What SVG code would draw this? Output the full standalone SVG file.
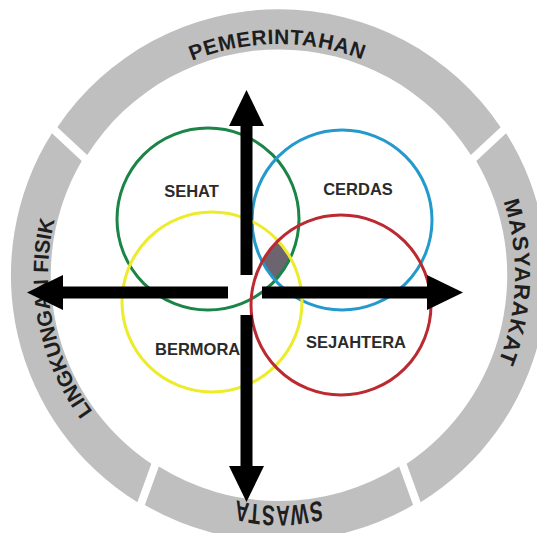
<svg xmlns="http://www.w3.org/2000/svg" width="537" height="533" viewBox="0 0 537 533">
  <style>
    .seg { fill: #bfbfbf; }
    .ringtxt { font-family: "Liberation Sans", Arial, sans-serif; font-weight: bold; fill: #1e1e1e; }
    .circ { fill: none; stroke-width: 3; }
    .lbl { font-family: "Liberation Sans", Arial, sans-serif; font-weight: bold; font-size: 16.5px; fill: #2b2b2b; text-anchor: middle; }
    .arrow { stroke: #000; stroke-width: 12; fill: none; marker-end: url(#head); }
  </style>
  <defs>
    <path id="p231" d="M510,275 A231,231 0 1 1 48,275 A231,231 0 1 1 510,275 A231,231 0 1 1 48,275 A231,231 0 1 1 510,275"/>
    <path id="p236" d="M515,275 A236,236 0 1 1 43,275 A236,236 0 1 1 515,275 A236,236 0 1 1 43,275 A236,236 0 1 1 515,275"/>
    <marker id="head" markerUnits="userSpaceOnUse" markerWidth="36" markerHeight="35" viewBox="0 0 36 35" refX="0" refY="17.5" orient="auto">
      <path d="M0,0 L36,17.5 L0,35 Z" fill="#000"/>
    </marker>
    <clipPath id="cGreen"><circle cx="208" cy="219" r="91"/></clipPath>
    <clipPath id="cBlue"><circle cx="342" cy="220" r="90"/></clipPath>
    <clipPath id="cYellow"><circle cx="212" cy="302" r="90"/></clipPath>
  </defs>
  <rect width="537" height="533" fill="#fff"/>

  <g id="pemerintahan">
    <path class="seg" d="M57.37,127.29 A267,267 0 0 1 500.63,127.29 L470.83,155.07 A227,227 0 0 0 87.17,155.07 Z"/>
    <text class="ringtxt" font-size="21" letter-spacing="0.6" text-anchor="middle"><textPath href="#p231" startOffset="1086.5">PEMERINTAHAN</textPath></text>
  </g>
  <g id="masyarakat">
    <path class="seg" d="M506.09,133.15 A267,267 0 0 1 420.64,502.31 L406.66,463.87 A227,227 0 0 0 476.29,160.93 Z"/>
    <text class="ringtxt" font-size="22" letter-spacing="1.2" text-anchor="middle"><textPath href="#p236" startOffset="1490.1">MASYARAKAT</textPath></text>
  </g>
  <g id="swasta">
    <path class="seg" d="M413.12,505.05 A267,267 0 0 1 144.88,505.05 L158.86,466.61 A227,227 0 0 0 399.14,466.61 Z"/>
    <text class="ringtxt" font-size="19" letter-spacing="1.2" text-anchor="middle" transform="translate(0,506) scale(1,1.5) translate(0,-506)"><textPath href="#p231" startOffset="1814.3">SWASTA</textPath></text>
  </g>
  <g id="lingkungan-fisik">
    <path class="seg" d="M137.36,502.31 A267,267 0 0 1 51.91,133.15 L81.71,160.93 A227,227 0 0 0 151.34,463.87 Z"/>
    <text class="ringtxt" font-size="21" letter-spacing="0" text-anchor="middle"><textPath href="#p231" startOffset="680.2">LINGKUNGAN FISIK</textPath></text>
  </g>

  <g id="center-overlap">
    <g clip-path="url(#cGreen)"><g clip-path="url(#cBlue)"><g clip-path="url(#cYellow)">
      <circle cx="341" cy="305" r="90" fill="#6c6570"/>
    </g></g></g>
  </g>

  <g id="sehat">
    <circle class="circ" cx="208" cy="219" r="91" stroke="#1b8447"/>
    <text class="lbl" x="191.5" y="197">SEHAT</text>
  </g>
  <g id="cerdas">
    <circle class="circ" cx="342" cy="220" r="90" stroke="#2499cc"/>
    <text class="lbl" x="358" y="195">CERDAS</text>
  </g>
  <g id="bermoral">
    <circle class="circ" cx="212" cy="302" r="90" stroke="#ecec2a"/>
    <text class="lbl" x="202.7" y="355">BERMORAL</text>
  </g>
  <g id="sejahtera">
    <circle class="circ" cx="341" cy="305" r="90" stroke="#bb2a30"/>
    <text class="lbl" x="356" y="348">SEJAHTERA</text>
  </g>

  <g id="connectors">
    <line class="arrow" x1="246.5" y1="275" x2="246.5" y2="126"/>
    <line class="arrow" x1="246.5" y1="315" x2="246.5" y2="466"/>
    <line class="arrow" x1="228" y1="292.5" x2="63" y2="292.5"/>
    <line class="arrow" x1="262" y1="292.5" x2="427" y2="292.5"/>
  </g>
</svg>
